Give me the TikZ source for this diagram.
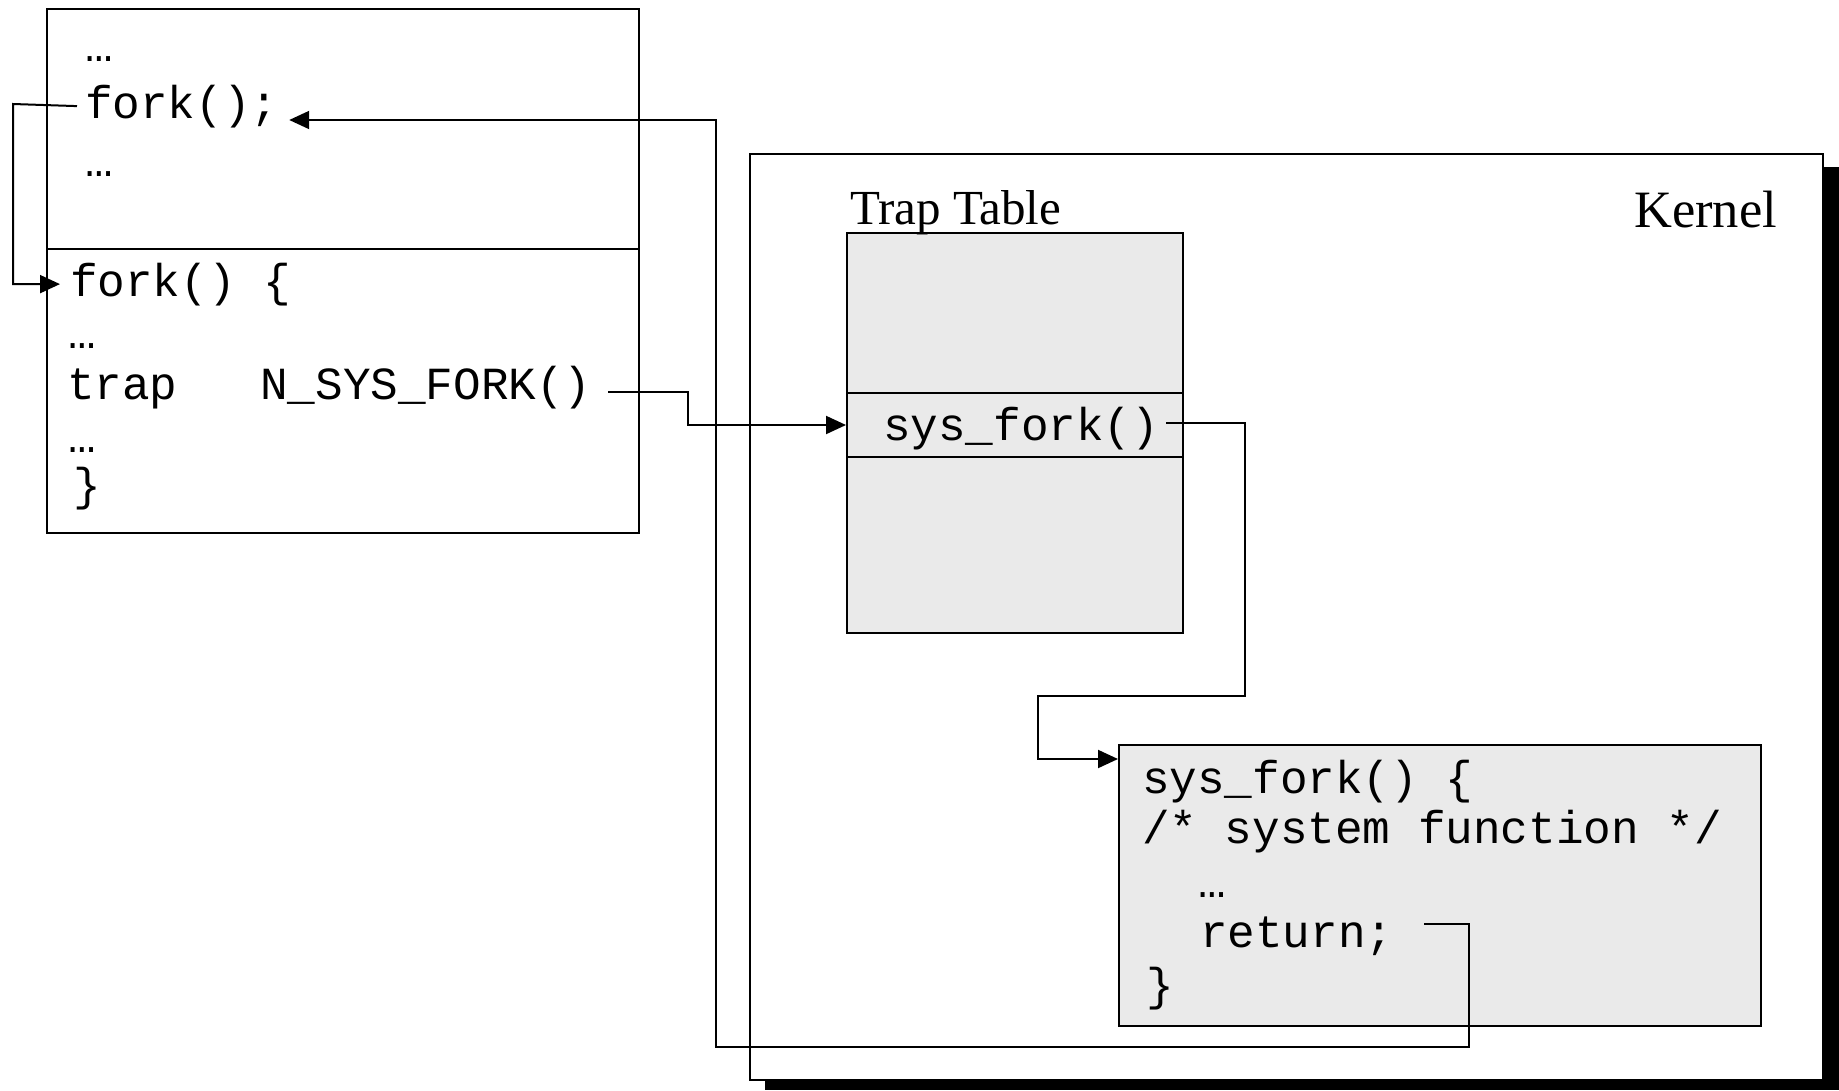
\documentclass[tikz,border=0pt]{standalone}
\usepackage{fontspec}
\setmainfont{Liberation Serif}
\setmonofont{Liberation Mono}
\usetikzlibrary{arrows.meta}
\definecolor{ttgray}{HTML}{EAEAEA}
\begin{document}
\begin{tikzpicture}[x=1pt,y=-1pt,
  line width=2pt,
  code/.style={font=\ttfamily\fontsize{46}{50}\selectfont, anchor=base west, inner sep=0pt},
  box/.style={draw=black, line width=2pt, rectangle, anchor=north west, inner sep=0pt},
  conn/.style={draw=black, line width=2pt},
  tip/.style={-{Triangle[length=20pt,width=18pt]}},
]
\useasboundingbox (0,0) rectangle (1839,1090);
\fill[white] (0,0) rectangle (1839,1090);

% user program box
\node[box, minimum width=592pt, minimum height=239.5pt] (upper) at (46,8) {};
\node[box, minimum width=592pt, minimum height=284.5pt] (lower) at (46,247.5) {};

% kernel with shadow
\fill[black] (765,167) rectangle (1839,1090);
\node[box, fill=white, minimum width=1073pt, minimum height=926.5pt] (kernel) at (749,152.5) {};

% trap table
\node[box, fill=ttgray, minimum width=336pt, minimum height=160pt] (tttop) at (846,232) {};
\node[box, fill=ttgray, minimum width=336pt, minimum height=64pt] (ttmid) at (846,392) {};
\node[box, fill=ttgray, minimum width=336pt, minimum height=176pt] (ttbot) at (846,456) {};

% sys_fork box
\node[box, fill=ttgray, minimum width=642pt, minimum height=281pt] (sfbox) at (1118,744) {};

% labels
\node[anchor=base west, inner sep=0pt, font=\fontsize{49}{52}\selectfont] (ttlabel) at (849,224) {Trap Table};
\node[anchor=base east, inner sep=0pt, font=\fontsize{52.5}{56}\selectfont] (klabel) at (1778,227) {Kernel};

% user code
\node[code] (dots1) at (84,61) {…};
\node[code] (fork1) at (84,118) {fork();};
\node[code] (dots2) at (84,176) {…};
\node[code] (forkdef) at (69,296) {fork() \{};
\node[code] (dots3) at (67,348) {…};
\node[code] (trap) at (66,399) {trap\ \ \ N\_SYS\_FORK()};
\node[code] (dots4) at (67,452) {…};
\node[code] (rbrace1) at (72,500) {\}};

% trap table entry
\node[code] (sysent) at (882,440) {sys\_fork()};

% kernel function
\node[code] (sf1) at (1141,793) {sys\_fork() \{};
\node[code] (sf2) at (1141,843) {/* system function */};
\node[code] (sf3) at (1197,897) {…};
\node[code] (sf4) at (1199,947) {return;};
\node[code] (sf5) at (1145,1000) {\}};

% connectors
\draw[conn,tip] ([xshift=-7pt]fork1.west) -- (13,104) |- ([xshift=-9pt]forkdef.west);
\draw[conn,tip] ([xshift=16pt,yshift=-5pt]trap.east) -- ++(80,0) |- (ttmid.west);
\draw[conn,tip] ([xshift=6pt,yshift=5pt]sysent.east) -| (1245,696) -| (1038,759) -- ([yshift=-15pt]sfbox.north west);
\draw[conn,tip] ([xshift=30pt,yshift=12pt]sf4.east) -| (1469,1047) -| (716,120) -- ([xshift=10pt,yshift=-2pt]fork1.base east);
\end{tikzpicture}
\end{document}
